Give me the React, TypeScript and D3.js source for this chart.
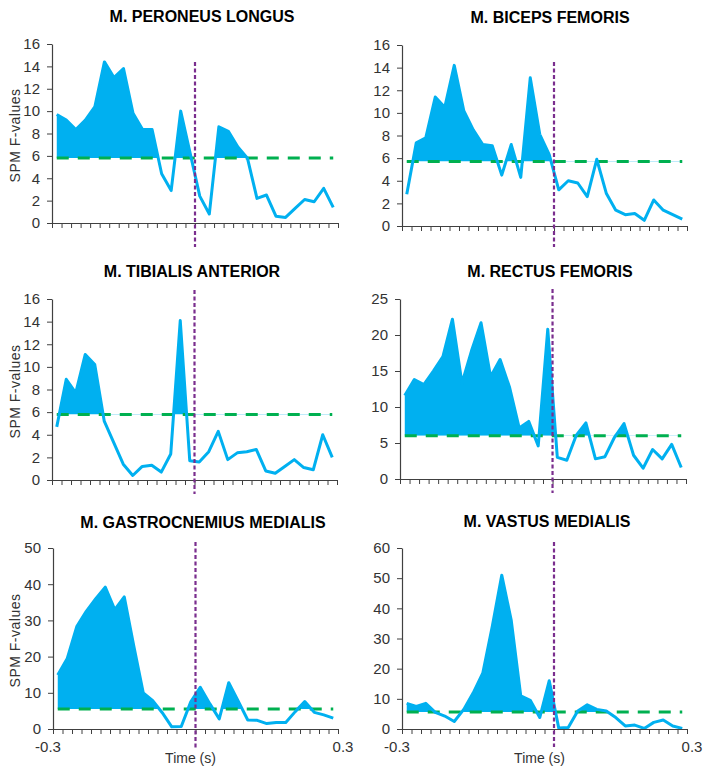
import * as d3 from "d3";
import { useRef, useEffect } from "react";

// SPM F-values, 30 time bins from -0.3 s to 0.3 s
const peroneusLongus = [9.7, 9.2, 8.35, 9.2, 10.4, 14.4, 13.0, 13.8, 9.8, 8.35, 8.35, 4.4, 2.9, 10.0, 6.2, 2.4, 0.8, 8.6, 8.2, 6.8, 5.8, 2.2, 2.5, 0.6, 0.5, 1.3, 2.1, 1.9, 3.1, 1.4];
const bicepsFemoris = [2.8, 7.35, 7.8, 11.4, 10.5, 14.2, 10.2, 8.5, 7.2, 7.1, 4.5, 7.2, 4.3, 13.1, 8.1, 6.3, 3.2, 4.0, 3.8, 2.6, 5.9, 2.9, 1.4, 1.0, 1.1, 0.5, 2.3, 1.4, 1.0, 0.6];
const tibialisAnterior = [4.7, 8.9, 7.7, 11.1, 10.2, 5.2, 3.3, 1.4, 0.4, 1.2, 1.3, 0.7, 2.3, 14.1, 1.7, 1.6, 2.5, 4.3, 1.8, 2.4, 2.5, 2.7, 0.8, 0.6, 1.2, 1.8, 1.1, 0.9, 4.0, 2.0];
const rectusFemoris = [11.6, 13.8, 13.1, 15.0, 17.0, 22.2, 13.3, 17.8, 21.7, 14.2, 16.6, 12.7, 7.1, 8.0, 4.6, 20.8, 3.0, 2.6, 6.1, 7.8, 2.8, 3.1, 5.8, 7.7, 3.3, 1.5, 4.1, 2.8, 4.8, 1.6];
const gastrocMedialis = [14.9, 19.5, 28.3, 32.5, 36.0, 39.2, 33.0, 36.5, 23.0, 10.0, 7.8, 4.5, 0.6, 0.7, 7.5, 11.5, 7.0, 2.8, 12.8, 7.7, 2.5, 2.4, 1.5, 1.8, 1.8, 4.8, 7.6, 4.6, 3.9, 3.0];
const vastusMedialis = [8.5, 7.5, 8.5, 5.5, 4.3, 2.5, 6.5, 12.0, 18.5, 34.0, 51.0, 36.0, 11.0, 9.5, 3.8, 16.0, 0.3, 0.5, 6.0, 8.0, 6.5, 6.0, 3.8, 1.0, 1.3, 0.2, 2.2, 3.0, 1.0, 0.2];

const titles = ["M. PERONEUS LONGUS", "M. BICEPS FEMORIS", "M. TIBIALIS ANTERIOR", "M. RECTUS FEMORIS", "M. GASTROCNEMIUS MEDIALIS", "M. VASTUS MEDIALIS"];
const series = [peroneusLongus, bicepsFemoris, tibialisAnterior, rectusFemoris, gastrocMedialis, vastusMedialis];
const thresholds = [5.8, 5.7, 5.8, 6.0, 5.5, 5.6];
const yMaxes = [16, 16, 16, 25, 50, 60];
const ySteps = [2, 2, 2, 5, 10, 10];
const markerBins = [15, 16, 15, 16, 15, 16];
const timeLabels = ["-0.3", "0.3"];

// where each panel sits on the page
const layout = [
  { left: 52, right: 338, top: 44, bottom: 223, titleX: 202, titleY: 22, markTop: 62, markBottom: 247, yTitle: true, xLabels: false },
  { left: 402, right: 687, top: 45, bottom: 226, titleX: 550, titleY: 23, markTop: 62, markBottom: 247, yTitle: false, xLabels: false },
  { left: 52, right: 337, top: 299, bottom: 480, titleX: 192, titleY: 277, markTop: 290, markBottom: 494, yTitle: true, xLabels: false },
  { left: 400, right: 686, top: 299, bottom: 479, titleX: 550, titleY: 277, markTop: 289, markBottom: 493, yTitle: false, xLabels: false },
  { left: 53, right: 338, top: 548, bottom: 729, titleX: 203, titleY: 528, markTop: 542, markBottom: 748, yTitle: true, xLabels: true },
  { left: 402, right: 687, top: 548, bottom: 729, titleX: 547, titleY: 527, markTop: 542, markBottom: 747, yTitle: false, xLabels: true },
];

const FONT = "'Liberation Sans', Arial, sans-serif";

function App() {
  const svgRef = useRef(null);

  useEffect(() => {
    const svg = d3.select(svgRef.current);
    svg.selectAll("*").remove();

    series.forEach((values, p) => {
      const L = layout[p];
      const n = values.length;
      const thr = thresholds[p];

      const x = d3.scaleLinear().domain([0, n]).range([L.left, L.right]);
      const y = d3.scaleLinear().domain([0, yMaxes[p]]).range([L.bottom, L.top]);

      const g = svg.append("g");

      // clip so only the part above the threshold gets filled
      const clipId = `clip-above-${p}`;
      svg.append("defs").append("clipPath").attr("id", clipId)
        .append("rect")
        .attr("x", L.left)
        .attr("y", L.top - 20)
        .attr("width", L.right - L.left)
        .attr("height", y(thr) - (L.top - 20));

      const area = d3.area()
        .x((d, i) => x(i + 0.5))
        .y0(y(thr))
        .y1((d) => y(d));

      g.append("path")
        .datum(values)
        .attr("d", area)
        .attr("fill", "#00B0F0")
        .attr("clip-path", `url(#${clipId})`);

      // critical threshold
      g.append("line")
        .attr("x1", x(0.5))
        .attr("x2", x(n - 0.5))
        .attr("y1", y(thr))
        .attr("y2", y(thr))
        .attr("stroke", "#00B050")
        .attr("stroke-width", 3)
        .attr("stroke-dasharray", "12,9");

      const line = d3.line()
        .x((d, i) => x(i + 0.5))
        .y((d) => y(d));

      g.append("path")
        .datum(values)
        .attr("d", line)
        .attr("fill", "none")
        .attr("stroke", "#00B0F0")
        .attr("stroke-width", 3)
        .attr("stroke-linejoin", "round");

      // axes
      const yAxis = d3.axisLeft(y)
        .tickValues(d3.range(0, yMaxes[p] + 0.001, ySteps[p]))
        .tickSize(5)
        .tickSizeOuter(0)
        .tickPadding(7);
      const yg = g.append("g").attr("transform", `translate(${L.left},0)`).call(yAxis);

      const xAxis = d3.axisBottom(x)
        .tickValues(d3.range(0, n + 1))
        .tickFormat(() => "")
        .tickSize(5)
        .tickSizeOuter(0);
      const xg = g.append("g").attr("transform", `translate(0,${L.bottom})`).call(xAxis);

      [yg, xg].forEach((a) => {
        a.select(".domain").attr("stroke", "#404040").attr("stroke-width", 1.2);
        a.selectAll(".tick line").attr("stroke", "#404040").attr("stroke-width", 1);
      });
      yg.selectAll(".tick text")
        .attr("fill", "#333")
        .style("font-family", FONT)
        .style("font-size", "15px");

      // event marker
      g.append("line")
        .attr("x1", x(markerBins[p]))
        .attr("x2", x(markerBins[p]))
        .attr("y1", L.markTop)
        .attr("y2", L.markBottom)
        .attr("stroke", "#7A2E8E")
        .attr("stroke-width", 2.2)
        .attr("stroke-dasharray", "4,2.5");

      g.append("text")
        .attr("x", L.titleX)
        .attr("y", L.titleY)
        .attr("text-anchor", "middle")
        .style("font-family", FONT)
        .style("font-size", "16px")
        .style("font-weight", "bold")
        .attr("fill", "#000")
        .text(titles[p]);

      if (L.yTitle) {
        g.append("text")
          .attr("transform", `translate(20,${(L.top + L.bottom) / 2 + 2}) rotate(-90)`)
          .attr("text-anchor", "middle")
          .style("font-family", FONT)
          .style("font-size", "14px")
          .style("letter-spacing", "0.5px")
          .attr("fill", "#333")
          .text("SPM F-values");
      }

      if (L.xLabels) {
        g.append("text")
          .attr("x", L.left - 5)
          .attr("y", L.bottom + 23)
          .attr("text-anchor", "middle")
          .style("font-family", FONT)
          .style("font-size", "15px")
          .attr("fill", "#333")
          .text(timeLabels[0]);
        g.append("text")
          .attr("x", L.right + 5)
          .attr("y", L.bottom + 23)
          .attr("text-anchor", "middle")
          .style("font-family", FONT)
          .style("font-size", "15px")
          .attr("fill", "#333")
          .text(timeLabels[1]);
        g.append("text")
          .attr("x", (L.left + L.right) / 2 - 5)
          .attr("y", L.bottom + 34)
          .attr("text-anchor", "middle")
          .style("font-family", FONT)
          .style("font-size", "14px")
          .attr("fill", "#333")
          .text("Time (s)");
      }
    });
  }, []);

  return (
    <svg
      ref={svgRef}
      width={709}
      height={772}
      style={{ position: "absolute", left: 0, top: 0, background: "#fff" }}
    />
  );
}

export default App;
